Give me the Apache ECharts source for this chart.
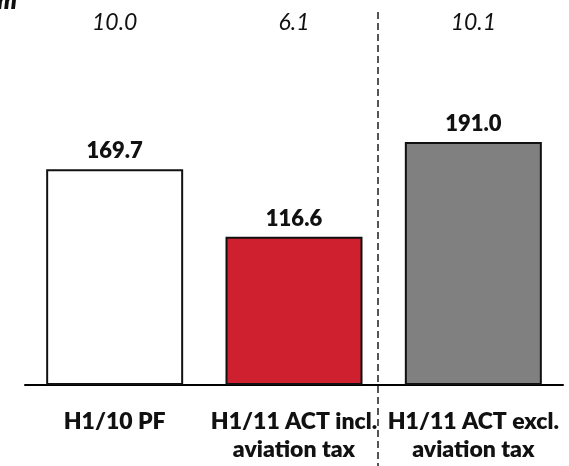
<!DOCTYPE html>
<html>
<head>
<meta charset="utf-8">
<script src="https://cdn.jsdelivr.net/npm/echarts@6/dist/echarts.min.js"></script>
<style>
  html, body { margin: 0; padding: 0; background: #fff; }
  #chart { width: 569px; height: 466px; }
</style>
</head>
<body>
<div id="chart"></div>
<script>
// Half-year figures, € m
const categories = ['H1/10 PF', 'H1/11 ACT incl.\naviation tax', 'H1/11 ACT excl.\naviation tax'];
const values = [169.7, 116.6, 191.0];
const marginLabels = ['10.0', '6.1', '10.1'];
const barColors = ['#ffffff', '#cf2030', '#808080'];

const FONT = 'Lato';
const HEAVY = 800;

const chart = echarts.init(document.getElementById('chart'), null, { renderer: 'canvas' });

chart.setOption({
  animation: false,
  textStyle: { fontFamily: FONT },
  grid: { left: 25, right: 6, top: 67, bottom: 81, containLabel: false },
  xAxis: [
    {
      type: 'category',
      data: categories,
      position: 'bottom',
      axisLine: { lineStyle: { color: '#000', width: 2 } },
      axisTick: { show: false },
      axisLabel: {
        interval: 0,
        hideOverlap: false,
        margin: 23,
        fontFamily: FONT,
        fontSize: 23,
        fontWeight: HEAVY,
        color: '#111',
        lineHeight: 28,
        align: 'center'
      }
    },
    {
      type: 'category',
      data: marginLabels,
      position: 'top',
      axisLine: { show: false },
      axisTick: { show: false },
      axisLabel: {
        interval: 0,
        margin: 33,
        fontFamily: FONT,
        fontSize: 23,
        fontStyle: 'italic',
        color: '#111'
      }
    }
  ],
  yAxis: {
    type: 'value',
    min: 0,
    max: 250,
    show: false
  },
  series: [
    {
      type: 'bar',
      xAxisIndex: 0,
      barWidth: 137,
      data: values.map((v, i) => ({
        value: v,
        itemStyle: { color: barColors[i], borderColor: '#111', borderWidth: 2 }
      })),
      label: {
        show: true,
        position: 'top',
        distance: 7,
        formatter: p => p.value.toFixed(1),
        fontFamily: FONT,
        fontSize: 22,
        fontWeight: HEAVY,
        color: '#111'
      }
    }
  ],
  graphic: [
    {
      type: 'line',
      shape: { x1: 378, y1: 12, x2: 378, y2: 466 },
      style: { stroke: '#555', lineWidth: 2, lineDash: [7, 4] },
      z: 10
    },
    {
      type: 'text',
      left: -3,
      top: -12,
      style: {
        text: 'm',
        fontFamily: FONT,
        fontSize: 25,
        fontWeight: HEAVY,
        fontStyle: 'italic',
        fill: '#111'
      }
    }
  ]
});
</script>
</body>
</html>
